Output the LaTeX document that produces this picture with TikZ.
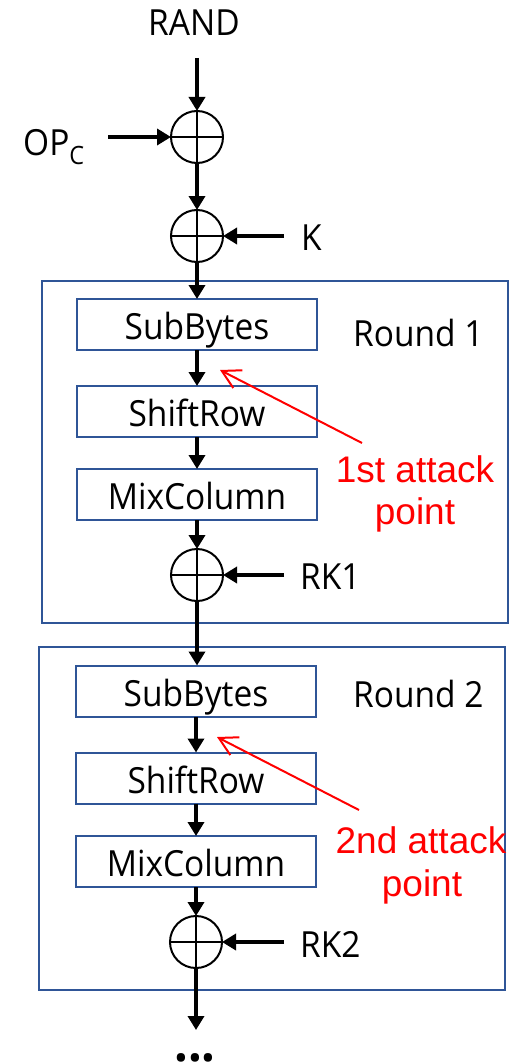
\documentclass[tikz,border=0pt]{standalone}
\usepackage{fontspec}
\setmainfont{Open Sans}[FakeStretch=0.93]
\newfontfamily\notefont{Liberation Sans}
\usetikzlibrary{arrows.meta}
\definecolor{boxblue}{RGB}{47,85,151}
\definecolor{notered}{RGB}{255,0,0}
\begin{document}
\begin{tikzpicture}[x=1pt,y=-1pt,
  flow/.style={line width=4pt,-{Triangle[length=14pt,width=16pt]}},
  xor/.style={circle,draw,line width=2pt,minimum size=52pt,inner sep=0pt,outer sep=0pt,
    path picture={\draw[line width=2pt]
      (path picture bounding box.north) -- (path picture bounding box.south)
      (path picture bounding box.west) -- (path picture bounding box.east);}},
  stage/.style={draw=boxblue,line width=2pt,minimum width=240pt,minimum height=51pt,
    inner sep=0pt,outer sep=0pt,text height=30pt,text depth=0pt,
    font=\fontsize{36}{40}\selectfont},
  frame/.style={draw=boxblue,line width=2pt,inner sep=0pt,outer sep=0pt,minimum width=466pt},
  big/.style={font=\fontsize{36}{40}\selectfont,inner sep=0pt},
  note/.style={text=notered,font=\notefont\fontsize{37}{42}\selectfont,inner sep=0pt},
  attack/.style={draw=notered,line width=2pt,-{Straight Barb[length=18pt,width=20pt]}}]
\useasboundingbox (0,0) rectangle (521,1062);

% round frames
\node[frame,minimum height=342pt] (r1) at (275,452) {};
\node[frame,minimum height=343pt] (r2) at (272,818.5) {};

% inputs
\node[big,anchor=base] (rand) at (194,36) {RAND};
\node[big,anchor=base west] (opc) at (23,155) {OP\textsubscript{C}};
\node[big,anchor=base west] (k) at (301,250) {K};
\coordinate (randend) at (197,58);
\coordinate (opcend) at (108,137);
\coordinate (kend) at (284,236);

% key additions
\node[xor] (x1) at (197,137) {};
\node[xor] (x2) at (197,236) {};

% round 1
\node[stage] (sb1) at (197,324.5) {SubBytes};
\node[stage] (sr1) at (197,411.5) {ShiftRow};
\node[stage] (mc1) at (197,494.5) {MixColumn};
\node[xor] (x3) at (197,575) {};
\node[big,anchor=base west] (rd1) at (353,346) {Round 1};
\node[big,anchor=base west] (rk1) at (300,589) {RK1};
\coordinate (rk1end) at (284,575);

% round 2
\node[stage] (sb2) at (196,691) {SubBytes};
\node[stage] (sr2) at (196,778) {ShiftRow};
\node[stage] (mc2) at (196,861.5) {MixColumn};
\node[xor] (x4) at (196,942) {};
\node[big,anchor=base west] (rd2) at (353,707) {Round 2};
\node[big,anchor=base west] (rk2) at (300,957) {RK2};
\coordinate (rk2end) at (284,942);
\coordinate (outend) at (196,1030);
\node[font=\bfseries\fontsize{52}{52}\selectfont,inner sep=0pt,anchor=base] (more) at (195,1061) {...};

% data path
\draw[flow] (randend) -- (x1);
\draw[flow] (opcend) -- (x1);
\draw[flow] (x1) -- (x2);
\draw[flow] (kend) -- (x2);
\draw[flow] (x2) -- (sb1);
\draw[flow] (sb1) -- (sr1);
\draw[flow] (sr1) -- (mc1);
\draw[flow] (mc1) -- (x3);
\draw[flow] (rk1end) -- (x3);
\draw[flow] (x3) -- (x3 |- sb2.north);
\draw[flow] (sb2) -- (sr2);
\draw[flow] (sr2) -- (mc2);
\draw[flow] (mc2) -- (x4);
\draw[flow] (rk2end) -- (x4);
\draw[flow] (x4) -- (outend);

% attack points
\node[note,anchor=base] (a1) at (415,482) {1st attack};
\node[note,anchor=base] (a1b) at (415,524) {point};
\node[note,anchor=base] (a2) at (421,853) {2nd attack};
\node[note,anchor=base] (a2b) at (422,896) {point};
\coordinate (t1) at (362,443);
\coordinate (h1) at (220,370);
\coordinate (t2) at (359,810);
\coordinate (h2) at (217,737);
\draw[attack] (t1) -- (h1);
\draw[attack] (t2) -- (h2);
\end{tikzpicture}
\end{document}
